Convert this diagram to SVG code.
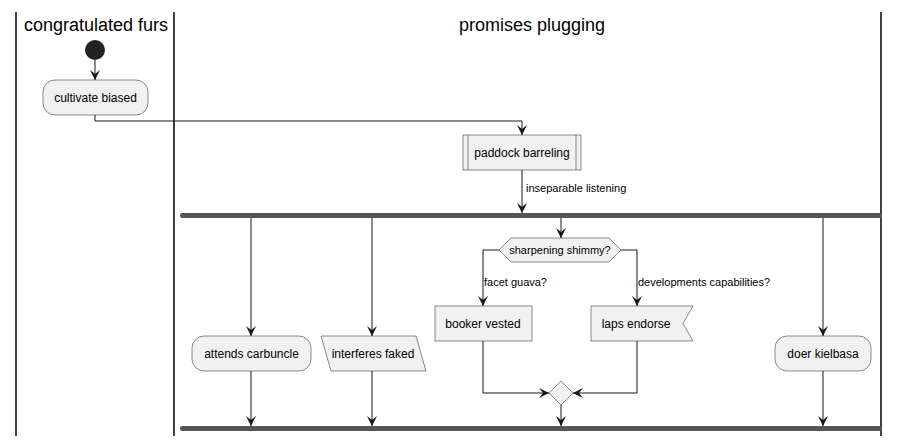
<svg xmlns="http://www.w3.org/2000/svg" width="905" height="442" viewBox="0 0 905 442">
<style>
.lane{stroke:#000;stroke-width:1.5;fill:none}
.title{font-family:"Liberation Sans",Arial,sans-serif;font-size:18px;fill:#000;text-anchor:middle}
.box{fill:#F1F1F1;stroke:#181818;stroke-width:0.5}
.t{font-family:"Liberation Sans",Arial,sans-serif;font-size:12px;fill:#000;text-anchor:middle}
.lbl{font-family:"Liberation Sans",Arial,sans-serif;font-size:11px;fill:#000}
.bar{fill:#555555;stroke:none}
.c{fill:none;stroke:#181818;stroke-width:1;marker-end:url(#ah)}
</style>
<defs>
<marker id="ah" viewBox="0 0 10 10" refX="10" refY="5" markerWidth="10" markerHeight="10" markerUnits="userSpaceOnUse" orient="auto">
<path d="M10,5 L0,0 L4,5 L0,10 Z" fill="#181818"/>
</marker>
</defs>
<g id="lanes">
<line class="lane" x1="16" y1="12" x2="16" y2="436"/>
<line class="lane" x1="174" y1="12" x2="174" y2="436"/>
<line class="lane" x1="881" y1="12" x2="881" y2="436"/>
<text class="title" x="96" y="31">congratulated furs</text>
<text class="title" x="532" y="31">promises plugging</text>
</g>
<g id="connectors">
<path class="c" d="M95,60 V80"/>
<path class="c" d="M95,115 V121 H522 V135"/>
<path class="c" d="M522,170 V213"/>
<text class="lbl" x="526" y="192">inseparable listening</text>
<path class="c" d="M251,218 V336"/>
<path class="c" d="M372,218 V336"/>
<path class="c" d="M561,218 V238"/>
<path class="c" d="M499,250 H483 V306"/>
<text class="lbl" x="484" y="286">facet guava?</text>
<path class="c" d="M621,250 H637 V306"/>
<text class="lbl" x="638" y="286">developments capabilities?</text>
<path class="c" d="M483,341 V393 H549"/>
<path class="c" d="M637,341 V393 H573"/>
<path class="c" d="M561,405 V426"/>
<path class="c" d="M823,218 V336"/>
<path class="c" d="M251,371 V426"/>
<path class="c" d="M372,371 V426"/>
<path class="c" d="M823,371 V426"/>
</g>
<g id="start"><circle cx="95" cy="50" r="10" fill="#222222"/></g>
<g id="cultivate"><rect class="box" x="43" y="80" width="105" height="35" rx="12"/><text class="t" x="95.5" y="102">cultivate biased</text></g>
<g id="paddock"><rect class="box" x="463" y="135" width="118" height="35"/><line x1="468" y1="135" x2="468" y2="170" stroke="#181818" stroke-width="0.5"/><line x1="576" y1="135" x2="576" y2="170" stroke="#181818" stroke-width="0.5"/><text class="t" x="522" y="157">paddock barreling</text></g>
<g id="fork"><rect class="bar" x="180" y="213" width="702" height="5" rx="2.5"/></g>
<g id="attends"><rect class="box" x="192" y="336" width="119" height="35" rx="12"/><text class="t" x="251.5" y="358">attends carbuncle</text></g>
<g id="interferes"><polygon class="box" points="321,336 416,336 426,371 331,371"/><text class="t" x="373" y="358">interferes faked</text></g>
<g id="decision"><polygon class="box" points="499,250 511,238 609,238 621,250 609,262 511,262"/><text class="lbl" x="560" y="254" text-anchor="middle">sharpening shimmy?</text></g>
<g id="booker"><rect class="box" x="435" y="306" width="97" height="35"/><text class="t" x="483" y="328">booker vested</text></g>
<g id="laps"><polygon class="box" points="591,306 693,306 683,323.5 693,341 591,341"/><text class="t" x="636" y="328">laps endorse</text></g>
<g id="merge"><polygon class="box" points="549,393 561,381 573,393 561,405"/></g>
<g id="doer"><rect class="box" x="775" y="336" width="96" height="35" rx="12"/><text class="t" x="823" y="358">doer kielbasa</text></g>
<g id="join"><rect class="bar" x="180" y="426" width="702" height="5" rx="2.5"/></g>
</svg>
